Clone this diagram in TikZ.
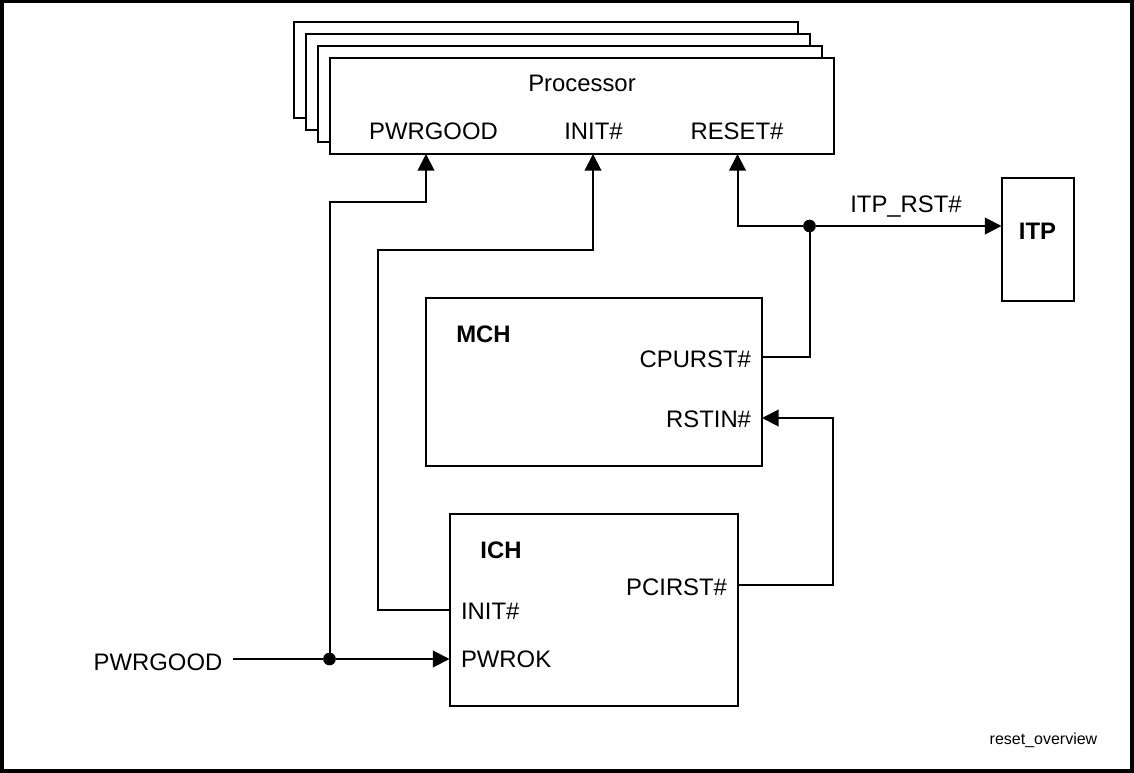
\documentclass[tikz,border=0pt]{standalone}
\usepackage{fontspec}
\setmainfont{Liberation Sans}
\usetikzlibrary{arrows.meta}
\tikzset{
  x=0.75pt,y=-0.75pt,
  box/.style={draw=black,fill=white,line width=1.5pt,inner sep=0pt,outer sep=0pt,anchor=north west},
  lbl/.style={inner sep=0pt,outer sep=0pt,font=\fontsize{17.9}{20}\selectfont},
  blbl/.style={lbl,font=\fontsize{17.9}{20}\selectfont\bfseries},
  wire/.style={line width=1.5pt,line join=miter},
  arr/.style={wire,-{Triangle[length=12.5pt,width=12.5pt]}},
  dot/.style={circle,fill=black,inner sep=0pt,outer sep=0pt,minimum size=9.5pt}
}
\newcommand{\bx}[6]{\node[box,minimum width=#4*0.75pt,minimum height=#5*0.75pt] (#1) at (#2,#3) {#6};}
\begin{document}
\begin{tikzpicture}
\useasboundingbox (0,0) rectangle (1134,773);
\draw[line width=2.5pt] (2,1.5) rectangle (1132,771);
% processor stack
\bx{p4}{293.5}{22}{504.5}{96}{}
\bx{p3}{305.5}{34}{504.5}{96}{}
\bx{p2}{317.5}{46}{504.5}{96}{}
\bx{proc}{329.5}{58}{504.5}{96}{}
\bx{mch}{425.5}{298}{336.5}{168}{}
\bx{ich}{449.5}{514}{288.5}{192}{}
\bx{itp}{1001.5}{178}{72.5}{123}{}
% labels
\node[lbl] (tproc) at (582,83) {Processor};
\node[lbl] (tpg) at (433.5,131) {PWRGOOD};
\node[lbl] (tinit) at (593.5,131) {INIT\#};
\node[lbl] (trst) at (737,131) {RESET\#};
\node[blbl] (titp) at (1037.5,231) {ITP};
\node[blbl] (tmch) at (483.5,334) {MCH};
\node[lbl,anchor=east] (tcpu) at (751,359) {CPURST\#};
\node[lbl,anchor=east] (trstin) at (751,419) {RSTIN\#};
\node[blbl] (tich) at (501,550) {ICH};
\node[lbl,anchor=east] (tpci) at (727,587) {PCIRST\#};
\node[lbl,anchor=west] (tiinit) at (461,611) {INIT\#};
\node[lbl,anchor=west] (tpwrok) at (461,659) {PWROK};
\node[lbl] (tin) at (158,662) {PWRGOOD};
\node[lbl] (titprst) at (906,207) {ITP\_RST\#};
\node[inner sep=0pt,font=\fontsize{12}{14}\selectfont] (tname) at (1043.5,740) {reset\_overview};
% junctions and routing points
\node[dot] (j1) at (329.5,659) {};
\node[dot] (j2) at (809.5,226) {};
\coordinate (start) at (233,659);
\coordinate (c1) at (426,202);
\coordinate (c2) at (593,250);
\coordinate (c3) at (378,250);
\coordinate (c4) at (378,610);
\coordinate (c5) at (737.5,226);
\coordinate (c6) at (833,418);
\coordinate (c7) at (833,585);
\coordinate (c8) at (809.5,357);
% connectors
\draw[wire] (start) -- (j1);
\draw[arr] (j1) -- (j1 -| ich.west);
\draw[arr] (j1.center) |- (c1) -- (c1 |- proc.south);
\draw[arr] (c4 -| ich.west) -- (c4) -- (c3) -- (c2) -- (c2 |- proc.south);
\draw[arr] (j2) -- (j2 -| itp.west);
\draw[arr] (j2) -- (c5) -- (c5 |- proc.south);
\draw[wire] (c8 -| mch.east) -- (c8) -- (j2);
\draw[arr] (c7 -| ich.east) -- (c7) -- (c6) -- (c6 -| mch.east);
\end{tikzpicture}
\end{document}
